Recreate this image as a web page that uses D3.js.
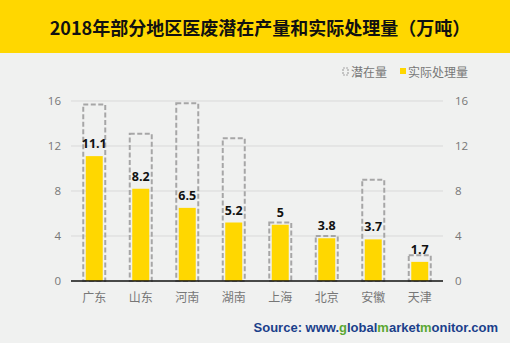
<!DOCTYPE html>
<html><head><meta charset="utf-8">
<script src="https://cdn.jsdelivr.net/npm/d3@7"></script>
<style>
html,body{margin:0;padding:0;background:#f0f1f0;}
svg{display:block;}
</style></head>
<body>
<script>
const categories = ["广东","山东","河南","湖南","上海","北京","安徽","天津"];
const potential = [15.7, 13.1, 15.8, 12.7, 5.2, 4.0, 9.0, 2.3];
const actual = [11.1, 8.2, 6.5, 5.2, 5, 3.8, 3.7, 1.7];
const yTicks = [0, 4, 8, 12, 16];
const title = "2018年部分地区医废潜在产量和实际处理量（万吨）";
const seriesNames = ["潜在量", "实际处理量"];

const W = 510, H = 343;
const svg = d3.select("body").append("svg").attr("width", W).attr("height", H);
svg.append("rect").attr("width", W).attr("height", H).attr("fill", "#f0f1f0");
svg.append("rect").attr("x", 0).attr("y", 0).attr("width", W).attr("height", 53).attr("fill", "#ffd700");
svg.append("text").attr("x", 260).attr("y", 35).attr("text-anchor", "middle")
  .attr("font-family", "'Noto Sans CJK SC', sans-serif").attr("font-weight", "bold")
  .attr("font-size", 18).attr("fill", "#111").text(title);

const x = d3.scaleBand().domain(categories).range([71, 443]).paddingInner(0).paddingOuter(0);
const y = d3.scaleLinear().domain([0, 16]).range([281, 101]);

// gridlines
svg.append("g").selectAll("line").data(yTicks.filter(d => d > 0)).join("line")
  .attr("x1", 71).attr("x2", 443).attr("y1", d => y(d)).attr("y2", d => y(d))
  .attr("stroke", "#d9d9d9").attr("stroke-width", 1);

// left axis
const left = svg.append("g").attr("transform", "translate(71,0)")
  .call(d3.axisLeft(y).tickValues(yTicks).tickSize(0).tickPadding(10));
left.select(".domain").remove();
left.selectAll("text").attr("font-family", "'Open Sans', 'Noto Sans', sans-serif").attr("font-size", 11.5).attr("fill", "#777");
// right axis
const right = svg.append("g").attr("transform", "translate(443,0)")
  .call(d3.axisRight(y).tickValues(yTicks).tickSize(0).tickPadding(12));
right.select(".domain").remove();
right.selectAll("text").attr("font-family", "'Open Sans', 'Noto Sans', sans-serif").attr("font-size", 11.5).attr("fill", "#777");

const cx = d => x(d) + x.bandwidth() / 2;
const potW = 22, actW = 17;

// potential dashed bars
svg.append("g").selectAll("rect").data(categories).join("rect")
  .attr("x", d => cx(d) - potW / 2)
  .attr("y", (d, i) => y(potential[i]))
  .attr("width", potW)
  .attr("height", (d, i) => y(0) - y(potential[i]))
  .attr("fill", "none").attr("stroke", "#a6a6a6").attr("stroke-width", 2)
  .attr("stroke-dasharray", "5,2.5");

// actual bars
svg.append("g").selectAll("rect").data(categories).join("rect")
  .attr("x", d => cx(d) - actW / 2)
  .attr("y", (d, i) => y(actual[i]))
  .attr("width", actW)
  .attr("height", (d, i) => y(0) - y(actual[i]))
  .attr("fill", "#ffd700");

// labels
svg.append("g").selectAll("text").data(categories).join("text")
  .attr("x", cx)
  .attr("y", (d, i) => y(actual[i]) - 8)
  .attr("text-anchor", "middle")
  .attr("font-family", "'Open Sans', 'DejaVu Sans', sans-serif").attr("font-weight", "bold")
  .attr("font-size", 12.5).attr("fill", "#111")
  .text((d, i) => actual[i]);

// baseline
svg.append("line").attr("x1", 71).attr("x2", 443).attr("y1", y(0)).attr("y2", y(0))
  .attr("stroke", "#111").attr("stroke-width", 1.5);

// x axis labels
const bottom = svg.append("g").attr("transform", `translate(0,${y(0)})`)
  .call(d3.axisBottom(x).tickSize(0).tickPadding(12));
bottom.select(".domain").remove();
bottom.selectAll("text").attr("font-family", "'Noto Sans CJK SC', sans-serif").attr("font-size", 12).attr("fill", "#777");

// legend
const lg = svg.append("g");
lg.append("rect").attr("x", 343).attr("y", 68).attr("width", 5).attr("height", 7)
  .attr("fill", "none").attr("stroke", "#a6a6a6").attr("stroke-width", 1.2).attr("stroke-dasharray", "2,1");
lg.append("text").attr("x", 351).attr("y", 76.5).attr("font-family", "'Noto Sans CJK SC', sans-serif")
  .attr("font-size", 12).attr("fill", "#777").text(seriesNames[0]);
lg.append("rect").attr("x", 400).attr("y", 68).attr("width", 6).attr("height", 6).attr("fill", "#ffd700");
lg.append("text").attr("x", 408).attr("y", 76.5).attr("font-family", "'Noto Sans CJK SC', sans-serif")
  .attr("font-size", 12).attr("fill", "#777").text(seriesNames[1]);

// source
const src = svg.append("text").attr("x", 498).attr("y", 332).attr("text-anchor", "end")
  .attr("font-family", "'Liberation Sans', Arial, sans-serif").attr("font-weight", "bold")
  .attr("font-size", 13).attr("fill", "#1b3f8b");
const parts = [["Source: www.", "#1b3f8b"], ["g", "#5aa832"], ["lobal", "#1b3f8b"], ["m", "#5aa832"], ["arket", "#1b3f8b"], ["m", "#5aa832"], ["onitor.com", "#1b3f8b"]];
parts.forEach(p => src.append("tspan").attr("fill", p[1]).text(p[0]));
</script>
</body></html>
